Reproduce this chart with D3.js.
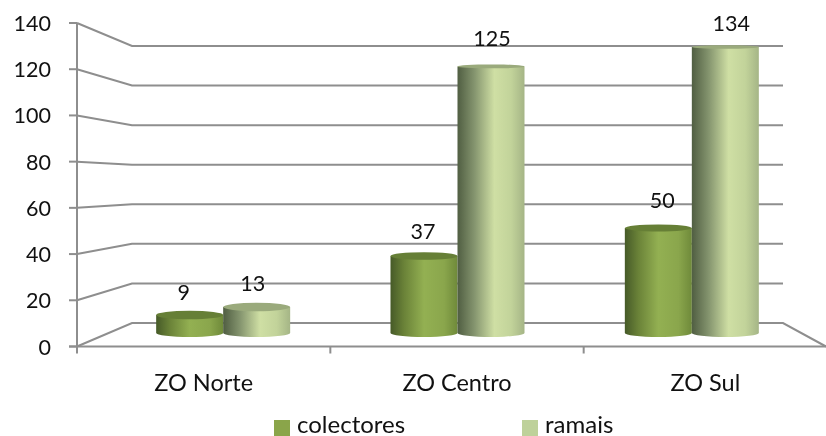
<!DOCTYPE html>
<html><head><meta charset="utf-8">
<script src="https://cdnjs.cloudflare.com/ajax/libs/d3/7.8.5/d3.min.js"></script>
<style>html,body{margin:0;background:#fff;overflow:hidden}svg{display:block;filter:blur(0.35px)}text{font-family:Lato,"Open Sans",sans-serif;fill:#111}</style>
</head><body><svg id="c" width="826" height="436"></svg>
<script>
const categories=["ZO Norte","ZO Centro","ZO Sul"];
const seriesNames=["colectores","ramais"];
const colectores=[9,37,50];
const ramais=[13,125,134];
const yTicks=[0,20,40,60,80,100,120,140];
const gridColor="#8e8e8e";
const svg=d3.select("#c");
const yFront=d3.scaleLinear().domain([0,140]).range([346.5,23]);
const yBack=d3.scaleLinear().domain([0,140]).range([323,46]);
const yBar=d3.scaleLinear().domain([0,13,37,134]).range([333,307,256,47]);
const ryBar=d3.scaleLinear().domain([0,134]).range([4.5,1.8]);
const xFront=d3.scalePoint().domain(d3.range(4)).range([77,837]);
const xLabel=d3.scaleBand().domain(categories).range([77,837]);
const xBar=d3.scaleBand().domain(categories).range([106,809]);
const xSeries=d3.scaleBand().domain(seriesNames).range([-67,67]);
const defs=svg.append("defs");
function grad(id,stops){const g=defs.append("linearGradient").attr("id",id);
  stops.forEach(([o,c])=>g.append("stop").attr("offset",o).attr("stop-color",c));}
grad("g0",[[0,"#465a28"],[.2,"#6a8238"],[.5,"#93b052"],[.8,"#8aa64c"],[1,"#6f8a3a"]]);
grad("g1",[[0,"#505e42"],[.25,"#84946e"],[.55,"#cfdfa4"],[.8,"#c2d39a"],[1,"#a5b586"]]);
const topColor=["#667f36","#9aaa7c"];
const g=svg.append("g").attr("fill","none").attr("stroke",gridColor).attr("stroke-width",2);
yTicks.forEach(t=>{
  if(t>0) g.append("path").attr("d",d3.line()([[77,yFront(t)],[132,yBack(t)],[783,yBack(t)]]));
});
g.append("path").attr("d",d3.line()([[77,yFront(0)],[132,yBack(0)],[783,yBack(0)],[826,yFront(0)]]));
g.append("line").attr("x1",77).attr("x2",77).attr("y1",yFront(140)).attr("y2",yFront(0)+5);
g.append("line").attr("x1",69).attr("x2",826).attr("y1",yFront(0)).attr("y2",yFront(0));
yTicks.forEach(t=>g.append("line").attr("x1",69).attr("x2",77).attr("y1",yFront(t)).attr("y2",yFront(t)));
xFront.domain().forEach(i=>g.append("line").attr("x1",xFront(i)).attr("x2",xFront(i)).attr("y1",yFront(0)).attr("y2",yFront(0)+7));
svg.append("g").selectAll("text").data(yTicks).join("text")
  .attr("x",51).attr("y",d=>yFront(d)+8).attr("text-anchor","end").attr("font-size",21.5).text(d=>d);
const labelNudge=[0,0,-5];
svg.append("g").selectAll("text").data(categories).join("text")
  .attr("x",(d,i)=>xLabel(d)+xLabel.bandwidth()/2+labelNudge[i]).attr("y",391).attr("text-anchor","middle").attr("font-size",23.5).text(d=>d);
const labelOffset=new Map([[9,[-6,15]],[13,[-4,16]],[37,[-1,17]],[50,[4,20]],[125,[1,20]],[134,[6,16]]]);
const rows=[];
categories.forEach((c,i)=>{rows.push({c,s:0,v:colectores[i]});rows.push({c,s:1,v:ramais[i]});});
rows.forEach(d=>{
  const cx=xBar(d.c)+xBar.bandwidth()/2+xSeries(seriesNames[d.s])+xSeries.bandwidth()/2;
  const hw=33.5, top=yBar(d.v), base=yBar(0), ry=ryBar(d.v);
  const gg=svg.append("g");
  gg.append("path").attr("fill",`url(#g${d.s})`)
    .attr("d",`M${cx-hw},${top}L${cx-hw},${base}A${hw},4 0 0 0 ${cx+hw},${base}L${cx+hw},${top}Z`);
  gg.append("ellipse").attr("cx",cx).attr("cy",top).attr("rx",hw).attr("ry",ry).attr("fill",topColor[d.s]);
  const [dx,dy]=labelOffset.get(d.v);
  svg.append("text").attr("x",cx+dx).attr("y",top-dy)
    .attr("text-anchor","middle").attr("font-size",21.5).text(d.v);
});
const lx=d3.scaleOrdinal().domain(seriesNames).range([274,522]);
const lg=svg.append("g").selectAll("g").data(seriesNames).join("g").attr("transform",d=>`translate(${lx(d)},420)`);
lg.append("rect").attr("width",16).attr("height",16).attr("fill",(d,i)=>["#8aa54a","#bed19a"][i]);
lg.append("text").attr("x",23).attr("y",13).attr("font-size",24).text(d=>d);
</script></body></html>
